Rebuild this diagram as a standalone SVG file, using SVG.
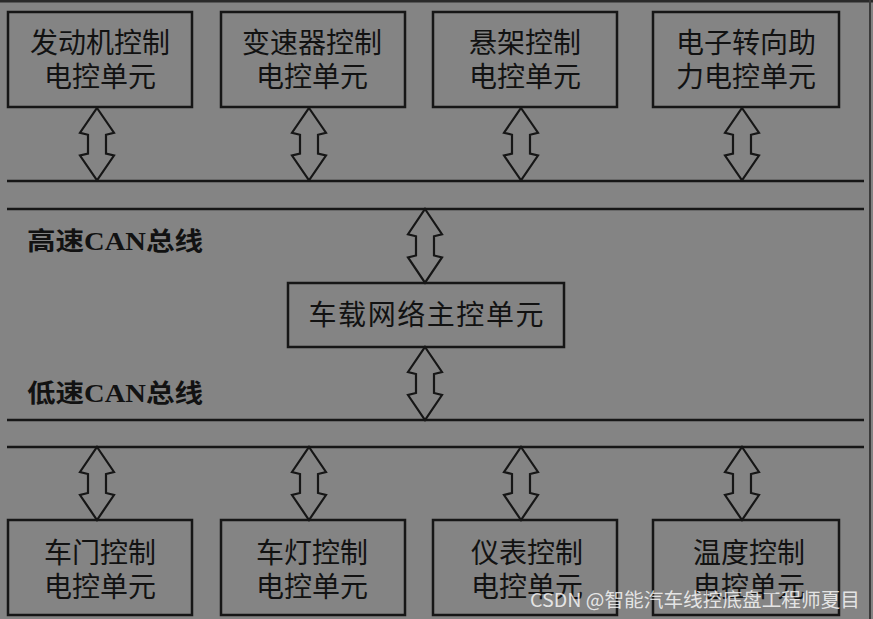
<svg xmlns="http://www.w3.org/2000/svg" xmlns:xlink="http://www.w3.org/1999/xlink" width="873" height="619" viewBox="0 0 873 619">
<style>
.box{fill:none;stroke:#161616;stroke-width:2.5}
.bus{stroke:#161616;stroke-width:2.5}
.arr{fill:none;stroke:#161616;stroke-width:2.2;stroke-linejoin:miter}
.t{font-family:"Noto Sans CJK SC","Noto Sans",sans-serif;font-size:28px;fill:#121212;text-anchor:middle}
.lbl{font-family:"Liberation Serif","Noto Sans CJK SC",serif;font-size:25px;font-weight:bold;fill:#121212}
.wm{font-family:"Noto Sans CJK SC","Noto Sans",sans-serif;font-size:19px;fill:#ffffff;fill-opacity:0.8}
</style>
<defs>
<path id="dbl" d="M0,0 L17,25 L9,27 L9,46 L17,48 L0,73 L-17,48 L-9,46 L-9,27 L-17,25 Z"/>
</defs>
<rect x="0" y="0" width="873" height="619" fill="#848484"/>
<line x1="0" y1="1" x2="873" y2="1" stroke="#2a2a2a" stroke-width="3"/>
<line x1="870" y1="0" x2="870" y2="619" stroke="#3a3a3a" stroke-width="2"/>

<g id="connectors">
<line class="bus" x1="7" y1="181" x2="864" y2="181"/>
<line class="bus" x1="7" y1="209" x2="864" y2="209"/>
<line class="bus" x1="7" y1="420" x2="864" y2="420"/>
<line class="bus" x1="7" y1="447" x2="864" y2="447"/>
<use xlink:href="#dbl" class="arr" transform="translate(97,108) scale(1,0.99)"/>
<use xlink:href="#dbl" class="arr" transform="translate(309,108) scale(1,0.99)"/>
<use xlink:href="#dbl" class="arr" transform="translate(521,108) scale(1,0.99)"/>
<use xlink:href="#dbl" class="arr" transform="translate(742,108) scale(1,0.99)"/>
<use xlink:href="#dbl" class="arr" transform="translate(425,209) scale(1,1.01)"/>
<use xlink:href="#dbl" class="arr" transform="translate(425,347)"/>
<use xlink:href="#dbl" class="arr" transform="translate(97,447)"/>
<use xlink:href="#dbl" class="arr" transform="translate(309,447)"/>
<use xlink:href="#dbl" class="arr" transform="translate(521,447)"/>
<use xlink:href="#dbl" class="arr" transform="translate(742,447)"/>
</g>

<g id="engine">
<rect class="box" x="8" y="12" width="184" height="95"/>
<text class="t" x="100" y="53">发动机控制</text>
<text class="t" x="100" y="87">电控单元</text>
</g>
<g id="transmission">
<rect class="box" x="221" y="12" width="184" height="95"/>
<text class="t" x="312" y="53">变速器控制</text>
<text class="t" x="312" y="87">电控单元</text>
</g>
<g id="suspension">
<rect class="box" x="433" y="12" width="184" height="95"/>
<text class="t" x="525" y="53">悬架控制</text>
<text class="t" x="525" y="87">电控单元</text>
</g>
<g id="steering">
<rect class="box" x="653" y="12" width="186" height="95"/>
<text class="t" x="746" y="53">电子转向助</text>
<text class="t" x="746" y="87">力电控单元</text>
</g>

<g id="hs-label">
<text class="lbl" x="27" y="250" textLength="176" lengthAdjust="spacingAndGlyphs">高速CAN总线</text>
</g>
<g id="ls-label">
<text class="lbl" x="27" y="402" textLength="176" lengthAdjust="spacingAndGlyphs">低速CAN总线</text>
</g>

<g id="gateway">
<rect class="box" x="288" y="283" width="276" height="64"/>
<text class="t" x="426" y="325" textLength="235" lengthAdjust="spacing">车载网络主控单元</text>
</g>

<g id="door">
<rect class="box" x="8" y="520" width="184" height="95"/>
<text class="t" x="100" y="563">车门控制</text>
<text class="t" x="100" y="597">电控单元</text>
</g>
<g id="lamp">
<rect class="box" x="221" y="520" width="184" height="95"/>
<text class="t" x="312" y="563">车灯控制</text>
<text class="t" x="312" y="597">电控单元</text>
</g>
<g id="instrument">
<rect class="box" x="433" y="520" width="184" height="95"/>
<text class="t" x="527" y="563">仪表控制</text>
<text class="t" x="527" y="597">电控单元</text>
</g>
<g id="climate">
<rect class="box" x="653" y="520" width="186" height="95"/>
<text class="t" x="749" y="563">温度控制</text>
<text class="t" x="749" y="597">电控单元</text>
</g>

<text class="wm" x="530" y="607" textLength="330" lengthAdjust="spacingAndGlyphs">CSDN @智能汽车线控底盘工程师夏目</text>
</svg>
